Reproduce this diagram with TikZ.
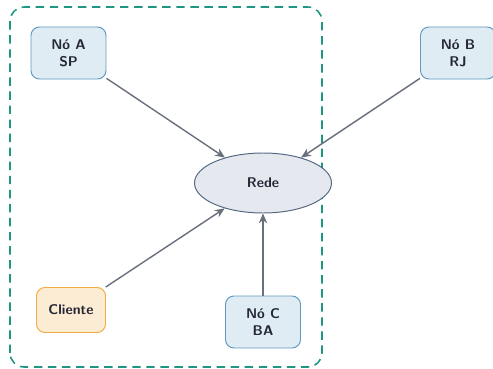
\documentclass[tikz,border=0pt]{standalone}
\usetikzlibrary{arrows.meta, positioning, shapes.geometric}

\definecolor{noFill}{RGB}{223,236,243}
\definecolor{noDraw}{RGB}{95,155,190}
\definecolor{cliFill}{RGB}{253,236,212}
\definecolor{cliDraw}{RGB}{240,172,65}
\definecolor{redeFill}{RGB}{229,233,239}
\definecolor{redeDraw}{RGB}{85,105,130}
\definecolor{linkGray}{RGB}{105,112,125}
\definecolor{zoneTeal}{RGB}{30,150,130}
\definecolor{txtDark}{RGB}{38,40,55}

\begin{document}
\begin{tikzpicture}[
    font=\sffamily\bfseries\color{txtDark},
    nodebox/.style={draw=noDraw, fill=noFill, rectangle, rounded corners=6pt, align=center, minimum width=1.875cm, minimum height=1.3cm, line width=0.7pt},
    clientbox/.style={draw=cliDraw, fill=cliFill, rectangle, rounded corners=6pt, align=center, minimum width=1.725cm, minimum height=1.125cm, line width=0.7pt},
    net/.style={draw=redeDraw, fill=redeFill, ellipse, minimum width=3.425cm, minimum height=1.5cm, line width=0.7pt},
    link/.style={draw=linkGray, line width=1pt, -{Stealth[length=7pt, width=6pt]}},
    >=Stealth
]
\useasboundingbox (0,0) rectangle (12.325,9.2);

% zona tracejada
\draw[zoneTeal, dashed, line width=1.1pt, dash pattern=on 6pt off 4pt, rounded corners=10pt] (0.25,0.025) rectangle (8.05,9.025);

\node[net] (rede) at (6.575,4.625) {Rede};
\node[nodebox] (noA) at (1.7125,7.875) {Nó A\\SP};
\node[nodebox] (noB) at (11.45,7.875) {Nó B\\RJ};
\node[clientbox] (cliente) at (1.775,1.45) {Cliente};
\node[nodebox] (noC) at (6.575,1.15) {Nó C\\BA};

\draw[link] (noA) -- (rede);
\draw[link] (noB) -- (rede);
\draw[link] (cliente) -- (rede);
\draw[link] (noC) -- (rede);

\end{tikzpicture}
\end{document}
